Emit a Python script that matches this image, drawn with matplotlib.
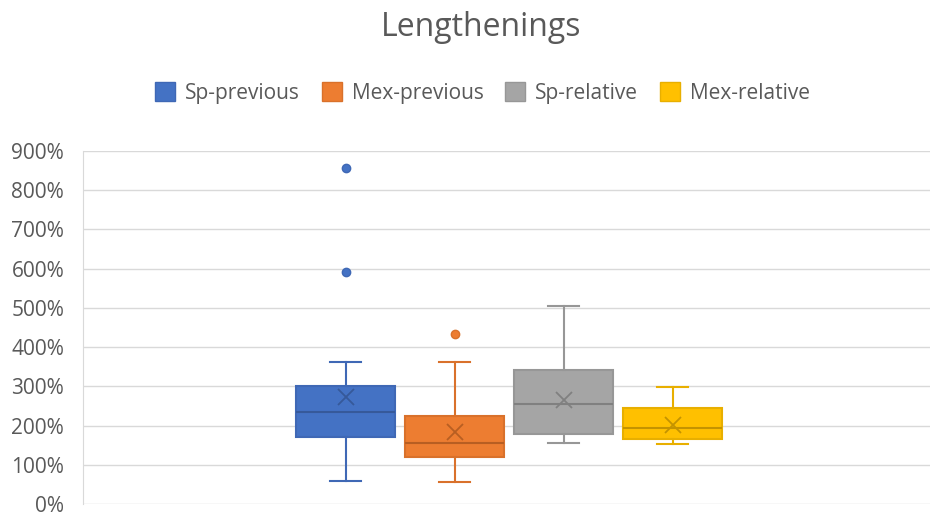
import matplotlib
matplotlib.use("Agg")
import matplotlib.pyplot as plt
from matplotlib.patches import Patch
from matplotlib.ticker import FuncFormatter

# ---- data (percent values) ----
series = ["Sp-previous", "Mex-previous", "Sp-relative", "Mex-relative"]
whislo = [59, 56, 156, 153]
q1 = [171, 120, 178, 166]
med = [235, 156, 255, 194]
q3 = [300, 224, 342, 245]
whishi = [362, 362, 505, 299]
means = [273, 184, 265, 201]
fliers = [[857, 592], [434], [], []]

fills = ["#4472C4", "#ED7D31", "#A5A5A5", "#FFC000"]
edges = ["#3F68B5", "#D9712B", "#979797", "#E8AF00"]
darks = ["#36599A", "#B85E22", "#808080", "#C49300"]

plt.rcParams['font.family'] = ['Open Sans', 'DejaVu Sans']
txt = "#595959"

fig = plt.figure(figsize=(9.33, 5.16), dpi=100)
W, H = 933, 516
ax = fig.add_axes([83 / W, (H - 504) / H, (930 - 83) / W, (504 - 151) / H])

positions = [1, 2, 3, 4]
for i in range(4):
    st = [dict(whislo=whislo[i], q1=q1[i], med=med[i], q3=q3[i], whishi=whishi[i],
               mean=means[i], fliers=fliers[i], label=series[i])]
    ax.bxp(st, positions=[positions[i]], widths=0.91, patch_artist=True,
           showmeans=True, manage_ticks=False,
           boxprops=dict(facecolor=fills[i], edgecolor=edges[i], linewidth=1.5),
           medianprops=dict(color=darks[i], linewidth=1.5),
           whiskerprops=dict(color=edges[i], linewidth=1.5),
           capprops=dict(color=edges[i], linewidth=1.5),
           capwidths=0.28,
           meanprops=dict(marker='x', markeredgecolor=darks[i], markersize=12,
                          markeredgewidth=1.3),
           flierprops=dict(marker='o', markerfacecolor=fills[i], markeredgecolor=edges[i],
                           markersize=6))

ax.set_xlim(-1.41, 6.36)
ax.set_ylim(0, 900)
ax.set_yticks(range(0, 901, 100))
ax.yaxis.set_major_formatter(FuncFormatter(lambda v, p: f"{int(v)}%"))
ax.grid(axis='y', color="#D9D9D9", linewidth=1)
ax.set_axisbelow(True)
ax.set_xticks([])
for s in ["top", "right", "bottom"]:
    ax.spines[s].set_visible(False)
ax.spines["left"].set_color("#D9D9D9")
ax.tick_params(axis='y', length=0, labelsize=15, labelcolor=txt, pad=13.5)

fig.text(481 / W, (H - 27) / H, "Lengthenings", ha='center', va='center', fontsize=23, color=txt)

handles = [Patch(facecolor=fills[i], edgecolor=edges[i], label=series[i]) for i in range(4)]
fig.legend(handles=handles, loc='center', bbox_to_anchor=(482.5 / W, (H - 93) / H), ncol=4,
           frameon=False, fontsize=15, labelcolor=txt, handlelength=0.96, handleheight=0.96,
           columnspacing=1.05, handletextpad=0.48, borderpad=0, borderaxespad=0)

fig.savefig("out.png", dpi=100)
